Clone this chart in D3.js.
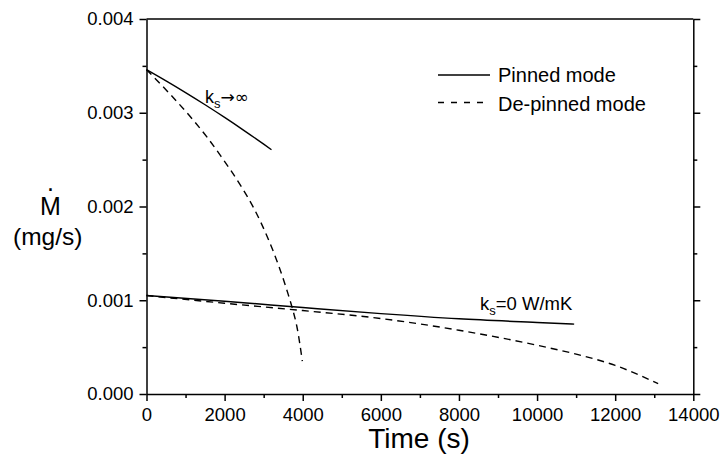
<!DOCTYPE html>
<html>
<head>
<script src="https://d3js.org/d3.v7.min.js"></script>
<style>
  body { margin: 0; background: #fff; }
  text { font-family: "Liberation Sans", Arial, sans-serif; fill: #000; }
</style>
</head>
<body>
<div id="chart"></div>
<script>
// data (mass loss rate in mg/s, time in s)
var tPinnedInf = [0, 500, 1000, 1500, 2000, 2500, 3000, 3200]
var mPinnedInf = [0.00346, 0.00334, 0.003215, 0.003085, 0.00295, 0.00281, 0.002665, 0.002605]

var tDepinnedInf = [0, 350, 700, 1200, 1550, 1900, 2400, 2750, 3100, 3400, 3630, 3750, 3850, 3990]
var mDepinnedInf = [0.00346, 0.00331, 0.003155, 0.00292, 0.00274, 0.00254, 0.00223, 0.00198, 0.00167, 0.00135, 0.00106, 0.00089, 0.00072, 0.00035]

var tPinnedZero = [0, 2000, 4000, 6000, 8000, 10000, 10950]
var mPinnedZero = [0.00105, 0.00099, 0.000922, 0.000857, 0.000802, 0.000763, 0.000745]

var tDepinnedZero = [0, 2000, 4000, 6000, 8000, 10000, 11000, 12000, 13100]
var mDepinnedZero = [0.00105, 0.000968, 0.00089, 0.000805, 0.00068, 0.00052, 0.000425, 0.000305, 0.00011]

var xTicks = [0, 2000, 4000, 6000, 8000, 10000, 12000, 14000]
var yTicks = [0, 0.001, 0.002, 0.003, 0.004]
var legendLabels = ["Pinned mode", "De-pinned mode"]

var width = 720, height = 461
var plotLeft = 146.5, plotRight = 693.3, plotTop = 19, plotBottom = 394

var svg = d3.select("#chart").append("svg")
  .attr("width", width)
  .attr("height", height)

var x = d3.scaleLinear().domain([0, 14000]).range([plotLeft, plotRight])
var y = d3.scaleLinear().domain([0, 0.004]).range([plotBottom, plotTop])

var minorX = d3.range(1000, 14000, 2000)
var minorY = [0.0005, 0.0015, 0.0025, 0.0035]

// bottom axis
svg.append("g")
  .attr("transform", "translate(0," + plotBottom + ")")
  .call(d3.axisBottom(x).tickValues(minorX).tickSize(4).tickSizeOuter(0).tickFormat(""))
  .call(function(g) { g.select(".domain").remove() })
var xa = svg.append("g")
  .attr("transform", "translate(0," + plotBottom + ")")
  .call(d3.axisBottom(x).tickValues(xTicks).tickSize(7).tickSizeOuter(0).tickPadding(7).tickFormat(d3.format("d")))
xa.selectAll("text").style("font-size", "18.5px").attr("fill", "#000")

// left axis
svg.append("g")
  .attr("transform", "translate(" + plotLeft + ",0)")
  .call(d3.axisLeft(y).tickValues(minorY).tickSize(4).tickSizeOuter(0).tickFormat(""))
  .call(function(g) { g.select(".domain").remove() })
var ya = svg.append("g")
  .attr("transform", "translate(" + plotLeft + ",0)")
  .call(d3.axisLeft(y).tickValues(yTicks).tickSize(7).tickSizeOuter(0).tickPadding(6).tickFormat(d3.format(".3f")))
ya.selectAll("text").style("font-size", "18.5px").attr("fill", "#000")

// right axis, no labels
svg.append("g")
  .attr("transform", "translate(" + plotRight + ",0)")
  .call(d3.axisRight(y).tickValues(minorY).tickSize(4).tickSizeOuter(0).tickFormat(""))
  .call(function(g) { g.select(".domain").remove() })
svg.append("g")
  .attr("transform", "translate(" + plotRight + ",0)")
  .call(d3.axisRight(y).tickValues(yTicks).tickSize(7).tickSizeOuter(0).tickFormat(""))

// top line
svg.append("line")
  .attr("x1", plotLeft).attr("x2", plotRight)
  .attr("y1", plotTop).attr("y2", plotTop)
  .attr("stroke", "#000")

svg.selectAll(".domain, .tick line").attr("stroke", "#000").attr("stroke-width", 1.5)
svg.selectAll("line").attr("stroke-width", 1.5)

// curves
var line = d3.line()
  .x(function(d) { return x(d[0]) })
  .y(function(d) { return y(d[1]) })
  .curve(d3.curveMonotoneX)

function series(t, m) { return t.map(function(d, i) { return [d, m[i]] }) }

var curves = [
  { data: series(tPinnedInf, mPinnedInf), dash: null },
  { data: series(tDepinnedInf, mDepinnedInf), dash: "7,5" },
  { data: series(tPinnedZero, mPinnedZero), dash: null },
  { data: series(tDepinnedZero, mDepinnedZero), dash: "7,5" }
]

svg.selectAll(".curve")
  .data(curves)
  .enter()
  .append("path")
  .attr("class", "curve")
  .attr("d", function(d) { return line(d.data) })
  .attr("fill", "none")
  .attr("stroke", "#000")
  .attr("stroke-width", 1.4)
  .attr("stroke-dasharray", function(d) { return d.dash })

// legend
var legend = svg.append("g")
legend.selectAll("line")
  .data(legendLabels)
  .enter()
  .append("line")
  .attr("x1", 438).attr("x2", 490)
  .attr("y1", function(d, i) { return 75 + i * 27.5 })
  .attr("y2", function(d, i) { return 75 + i * 27.5 })
  .attr("stroke", "#000")
  .attr("stroke-width", 1.4)
  .attr("stroke-dasharray", function(d, i) { return i ? "6,7" : null })
legend.selectAll("text")
  .data(legendLabels)
  .enter()
  .append("text")
  .attr("x", 498)
  .attr("y", function(d, i) { return 82 + i * 29 })
  .style("font-size", "20px")
  .text(function(d) { return d })

// curve labels
var lab1 = svg.append("text").attr("x", 205).attr("y", 103).style("font-size", "18px")
lab1.append("tspan").text("k")
lab1.append("tspan").attr("dy", 5).style("font-size", "13px").text("s")
lab1.append("tspan").attr("dy", -5).style("font-family", "DejaVu Sans").style("font-size", "17px").text("\u2192\u221e")

var lab2 = svg.append("text").attr("x", 480).attr("y", 310).style("font-size", "18.5px")
lab2.append("tspan").text("k")
lab2.append("tspan").attr("dy", 5).style("font-size", "13px").text("s")
lab2.append("tspan").attr("dy", -5).text("=0 W/mK")

// axis titles
svg.append("text")
  .attr("x", 419).attr("y", 448)
  .attr("text-anchor", "middle")
  .style("font-size", "28px")
  .text("Time (s)")

// M with a dot above (time derivative)
var mdot = svg.append("text")
  .attr("x", 40.1).attr("y", 215)
  .style("font-size", "25px")
mdot.append("tspan").text("M")
mdot.append("tspan").attr("dx", -13.9).attr("dy", -24).text(".")

svg.append("text")
  .attr("x", 47.7).attr("y", 245)
  .attr("text-anchor", "middle")
  .style("font-size", "24.5px")
  .text("(mg/s)")
</script>
</body>
</html>
